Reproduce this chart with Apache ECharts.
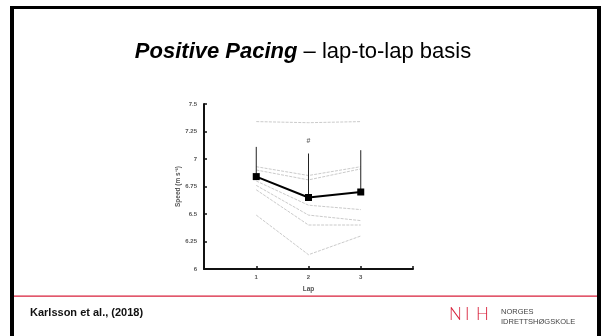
<!DOCTYPE html>
<html>
<head>
<meta charset="utf-8">
<script src="https://cdn.jsdelivr.net/npm/echarts@6/dist/echarts.min.js"></script>
<style>
  html, body { margin: 0; padding: 0; background: #fff; }
  #chart { width: 606px; height: 336px; }
</style>
</head>
<body>
<div id="chart"></div>
<script>
// Laps on the x axis
const laps = [1, 2, 3];

// Individual skaters' lap speeds (m/s)
const skaterA = [7.34, 7.33, 7.34];
const skaterB = [6.93, 6.85, 6.93];
const skaterC = [6.90, 6.81, 6.91];
const skaterD = [6.80, 6.58, 6.54];
const skaterE = [6.76, 6.49, 6.44];
const skaterF = [6.72, 6.40, 6.40];
const skaterG = [6.49, 6.13, 6.30];
const individuals = [skaterA, skaterB, skaterC, skaterD, skaterE, skaterF, skaterG];

// Group mean and upper SD limit per lap
const meanSpeed = [6.84, 6.65, 6.70];
const upperSD = [7.11, 7.05, 7.08];

// Significance marker
const markLap = 2;
const markValue = 7.165;
const markText = '#';

// Y-axis tick range
const yMin = 6, yMax = 7.5, yStep = 0.25;

const chart = echarts.init(document.getElementById('chart'));

const pair = (vals) => laps.map((l, i) => [l, vals[i]]);

const greySeries = individuals.map(vals => ({
  type: 'line',
  data: pair(vals),
  symbol: 'none',
  silent: true,
  z: 1,
  lineStyle: { color: '#c4c4c4', width: 0.9, type: [3, 1.2] }
}));

const labelStyle = { fontFamily: 'Liberation Sans, Arial', fontSize: 6, fontWeight: 'bold', color: '#555' };

chart.setOption({
  animation: false,
  title: {
    text: '{a|Positive Pacing}{b| – lap-to-lap basis}',
    left: 'center',
    top: 36,
    textStyle: {
      rich: {
        a: { fontFamily: 'Liberation Sans, Arial', fontSize: 22, fontWeight: 'bold', fontStyle: 'italic', color: '#000' },
        b: { fontFamily: 'Liberation Sans, Arial', fontSize: 22, fontWeight: 'normal', color: '#000' }
      }
    }
  },
  grid: { left: 204, top: 104, right: 193, bottom: 67 },
  xAxis: {
    type: 'value',
    min: 0, max: 4, interval: 1,
    name: 'Lap',
    nameLocation: 'middle',
    nameGap: 17,
    nameTextStyle: { fontFamily: 'Liberation Sans, Arial', fontSize: 6.5, fontWeight: 'bold', color: '#555' },
    axisLine: { lineStyle: { color: '#111', width: 2 } },
    axisTick: { inside: true, length: 3, lineStyle: { color: '#111', width: 1.5 } },
    axisLabel: Object.assign({ margin: 5, formatter: v => (v >= 1 && v <= 3 ? String(v) : '') }, labelStyle),
    splitLine: { show: false }
  },
  yAxis: {
    type: 'value',
    min: yMin, max: yMax, interval: yStep,
    name: 'Speed (m s⁻¹)',
    nameLocation: 'middle',
    nameGap: 20,
    nameTextStyle: { fontFamily: 'Liberation Sans, Arial', fontSize: 6.5, fontWeight: 'bold', color: '#555' },
    axisLine: { show: true, lineStyle: { color: '#111', width: 2 } },
    axisTick: { show: true, inside: true, length: 3, lineStyle: { color: '#111', width: 1.5 } },
    axisLabel: Object.assign({ margin: 7 }, labelStyle),
    splitLine: { show: false }
  },
  series: greySeries.concat([
    {
      type: 'custom',
      z: 3,
      data: laps.map((l, i) => [l, meanSpeed[i], upperSD[i]]),
      renderItem: (params, api) => {
        const p0 = api.coord([api.value(0), api.value(1)]);
        const p1 = api.coord([api.value(0), api.value(2)]);
        return {
          type: 'line',
          shape: { x1: p0[0], y1: p0[1], x2: p1[0], y2: p1[1] },
          style: { stroke: '#222', lineWidth: 1 }
        };
      }
    },
    {
      type: 'line',
      z: 4,
      data: pair(meanSpeed),
      symbol: 'rect',
      symbolSize: 7,
      itemStyle: { color: '#000' },
      lineStyle: { color: '#000', width: 2 }
    },
    {
      type: 'scatter',
      z: 5,
      data: [[markLap, markValue]],
      symbolSize: 0,
      label: {
        show: true,
        position: 'inside',
        formatter: markText,
        fontFamily: 'Liberation Sans, Arial',
        fontSize: 7,
        fontWeight: 'bold',
        color: '#444'
      }
    }
  ]),
  graphic: [
    // slide frame
    { type: 'rect', shape: { x: 10, y: 6, width: 591, height: 3 }, style: { fill: '#000' } },
    { type: 'rect', shape: { x: 10, y: 6, width: 4, height: 330 }, style: { fill: '#000' } },
    { type: 'rect', shape: { x: 597, y: 6, width: 4, height: 330 }, style: { fill: '#000' } },
    // footer rule
    { type: 'rect', shape: { x: 14, y: 295.5, width: 583, height: 1.2 }, style: { fill: '#d8213b' } },
    // citation
    {
      type: 'text', left: 30, top: 307,
      style: { text: 'Karlsson et al., (2018)', font: 'bold 11px "Liberation Sans", Arial', fill: '#111' }
    },
    // logo
    { type: 'text', left: 449, top: 306, style: { text: 'N', font: '300 17px Lato, "Liberation Sans"', fill: '#d8213b' } },
    { type: 'text', left: 465, top: 306, style: { text: 'I', font: '300 17px Lato, "Liberation Sans"', fill: '#d8213b' } },
    { type: 'text', left: 476, top: 306, style: { text: 'H', font: '300 17px Lato, "Liberation Sans"', fill: '#d8213b' } },
    { type: 'text', left: 501, top: 308, style: { text: 'NORGES', font: '7.5px "Liberation Sans", Arial', fill: '#444' } },
    { type: 'text', left: 501, top: 318, style: { text: 'IDRETTSHØGSKOLE', font: '7.5px "Liberation Sans", Arial', fill: '#444' } }
  ]
});
</script>
</body>
</html>
